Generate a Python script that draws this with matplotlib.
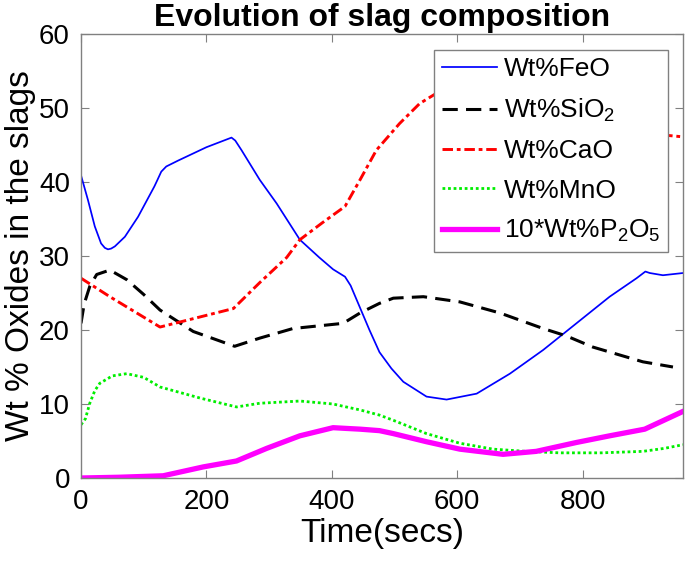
import matplotlib
matplotlib.use("Agg")
import matplotlib.pyplot as plt

plt.rcParams['font.family'] = ['Liberation Sans', 'DejaVu Sans']
plt.rcParams['mathtext.fontset'] = 'custom'
plt.rcParams['mathtext.rm'] = 'Liberation Sans'
plt.rcParams['mathtext.it'] = 'Liberation Sans:italic'
plt.rcParams['mathtext.bf'] = 'Liberation Sans:bold'

# ---- data ----
feo_t = [0, 11, 22, 32, 38, 43, 48, 54, 70, 91, 117, 122, 128, 136, 155, 200, 240, 246, 256, 285, 312,
         349, 380, 402, 421, 430, 445, 460, 476, 495, 514, 551, 583, 631, 684, 737, 790, 843, 886, 900,
         907, 928, 960]
feo_v = [40.9, 37.6, 34.0, 31.7, 31.1, 30.9, 31.0, 31.3, 32.6, 35.3, 39.4, 40.3, 41.4, 42.1, 42.9, 44.7,
         46.0, 45.6, 44.3, 40.3, 37.1, 32.2, 29.8, 28.2, 27.2, 26.0, 23.0, 20.0, 17.0, 14.8, 13.0, 11.0,
         10.6, 11.4, 14.1, 17.3, 20.9, 24.5, 27.0, 27.9, 27.7, 27.4, 27.7]

sio2_t = [0, 5, 14, 25, 46, 73, 100, 126, 179, 245, 285, 338, 418, 445, 476, 498, 546, 604, 668, 737,
          774, 816, 896, 944]
sio2_v = [20.9, 23.5, 25.9, 27.5, 28.1, 26.8, 24.8, 22.7, 19.8, 17.8, 18.9, 20.2, 20.9, 22.3, 23.6, 24.3,
          24.5, 23.8, 22.3, 20.2, 19.2, 17.7, 15.7, 15.0]

cao_t = [0, 46, 126, 243, 285, 328, 349, 385, 421, 445, 471, 508, 540, 567, 600, 700, 800, 900, 935, 960]
cao_v = [27.0, 24.5, 20.4, 22.9, 26.4, 29.8, 32.2, 34.5, 36.7, 40.3, 44.3, 47.9, 50.6, 52.0, 52.6, 51.5,
         49.5, 47.2, 46.3, 46.1]

mno_t = [0, 7, 14, 22, 30, 50, 73, 100, 126, 190, 248, 285, 349, 402, 423, 445, 476, 498, 551, 604, 657,
         710, 763, 830, 896, 930, 960]
mno_v = [7.2, 8.0, 10.1, 11.8, 12.8, 13.8, 14.1, 13.6, 12.3, 10.8, 9.6, 10.1, 10.4, 10.0, 9.6, 9.2, 8.5,
         7.8, 6.0, 4.7, 3.9, 3.6, 3.4, 3.4, 3.6, 4.0, 4.5]

p2o5_t = [0, 60, 131, 195, 248, 296, 349, 402, 423, 445, 476, 498, 551, 604, 673, 726, 790, 843, 899, 960]
p2o5_v = [0.0, 0.1, 0.3, 1.5, 2.3, 4.0, 5.7, 6.8, 6.7, 6.6, 6.4, 6.0, 4.9, 3.9, 3.2, 3.6, 4.8, 5.7, 6.6, 9.0]

labels = ['Wt%FeO', 'Wt%SiO$_2$', 'Wt%CaO', 'Wt%MnO', '10*Wt%P$_2$O$_5$']
xticks = [0, 200, 400, 600, 800]
yticks = [0, 10, 20, 30, 40, 50, 60]

fig = plt.figure(figsize=(6.85, 5.69), dpi=100)
ax = fig.add_axes([81/685, (569-478)/569, 602/685, 444/569])

ax.plot(feo_t, feo_v, color='#0000ff', lw=1.25, label=labels[0])
ax.plot(sio2_t, sio2_v, color='black', lw=2.2, dashes=(5, 2.7), label=labels[1])
ax.plot(cao_t, cao_v, color='#ff0000', lw=2.1, dashes=(3.6, 1.3, 1.3, 1.3), label=labels[2])
ax.plot(mno_t, mno_v, color='#00ee00', lw=2.0, dashes=(1, 1), label=labels[3])
ax.plot(p2o5_t, p2o5_v, color='#ff00ff', lw=3.8, label=labels[4])

ax.set_xlim(0, 960)
ax.set_ylim(0, 60)
ax.set_xticks(xticks)
ax.set_yticks(yticks)
ax.tick_params(direction='in', length=6, width=0.8, color='#808080', top=True, right=True,
               labelsize=20, pad=8, labelcolor='black')
for s in ax.spines.values():
    s.set_color('#808080')
    s.set_linewidth(1.0)

ax.set_title('Evolution of slag composition', fontsize=23, fontweight='bold', pad=6)
ax.set_xlabel('Time(secs)', fontsize=24, labelpad=2)
ax.set_ylabel('Wt % Oxides in the slags', fontsize=24, labelpad=2)

leg = ax.legend(loc='upper right', bbox_to_anchor=(0.975, 0.965), borderaxespad=0,
                fontsize=19, handlelength=2.1, handletextpad=0.25, labelspacing=0.58,
                borderpad=0.3, fancybox=False, framealpha=1, edgecolor='#808080')
leg.get_frame().set_linewidth(1.0)

fig.savefig('out.png', dpi=100)
